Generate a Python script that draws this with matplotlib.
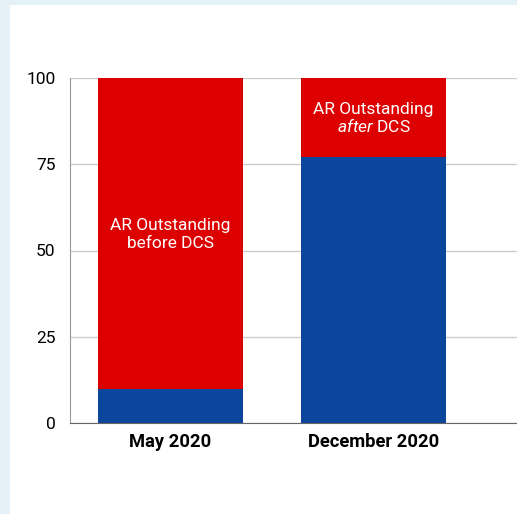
import matplotlib.pyplot as plt
from matplotlib.patches import Rectangle

plt.rcParams['font.family'] = ['Roboto', 'DejaVu Sans']
plt.rcParams['mathtext.fontset'] = 'custom'
plt.rcParams['mathtext.it'] = 'Roboto:italic'
plt.rcParams['mathtext.rm'] = 'Roboto'

# data
periods = ['May 2020', 'December 2020']
collected = [10, 77]
outstanding = [90, 23]
line1 = ['AR Outstanding', 'AR Outstanding']
line2 = ['before DCS', '$\\mathit{after}$ DCS']
yticks = [0, 25, 50, 75, 100]

blue = '#0c469c'
red = '#dd0000'

W, H = 517, 514
fig = plt.figure(figsize=(W / 100, H / 100), dpi=100)
fig.patch.set_facecolor('#e4f2f8')
# white panel behind the chart
fig.patches.append(Rectangle((10 / W, 0), 1, (H - 5) / H, transform=fig.transFigure,
                             facecolor='white', edgecolor='none', zorder=-10))

ax = fig.add_axes([70 / W, (H - 423) / H, (W - 70) / W, (423 - 78) / H])
ax.set_facecolor('none')

x = list(range(len(periods)))
ax.bar(x, collected, width=0.714, color=blue, zorder=2)
ax.bar(x, outstanding, width=0.714, bottom=collected, color=red, zorder=2)

# two-line label in the middle of the red segment
for i in x:
    mid = collected[i] + outstanding[i] / 2
    ax.annotate(line1[i], (i, mid), xytext=(0, 2.5), textcoords='offset points',
                ha='center', va='baseline', color='white', fontsize=12.5, zorder=3)
    ax.annotate(line2[i], (i, mid), xytext=(0, -10.5), textcoords='offset points',
                ha='center', va='baseline', color='white', fontsize=12.5, zorder=3)

ax.set_ylim(0, 100)
ax.set_xlim(-0.495, 1.707)
ax.set_yticks(yticks)
ax.set_xticks(x)
ax.set_xticklabels(periods, fontweight='bold', fontsize=13.2)
ax.tick_params(axis='y', labelsize=12.5, length=0, pad=10.5)
ax.tick_params(axis='x', length=0, pad=7)
ax.grid(axis='y', color='#cccccc', linewidth=1, zorder=1)

for s in ['top', 'right']:
    ax.spines[s].set_visible(False)
ax.spines['left'].set_color('#999999')
ax.spines['bottom'].set_color('#666666')
ax.spines['left'].set_zorder(4)
ax.spines['bottom'].set_zorder(4)

fig.savefig('out.png', dpi=100, facecolor=fig.get_facecolor())
